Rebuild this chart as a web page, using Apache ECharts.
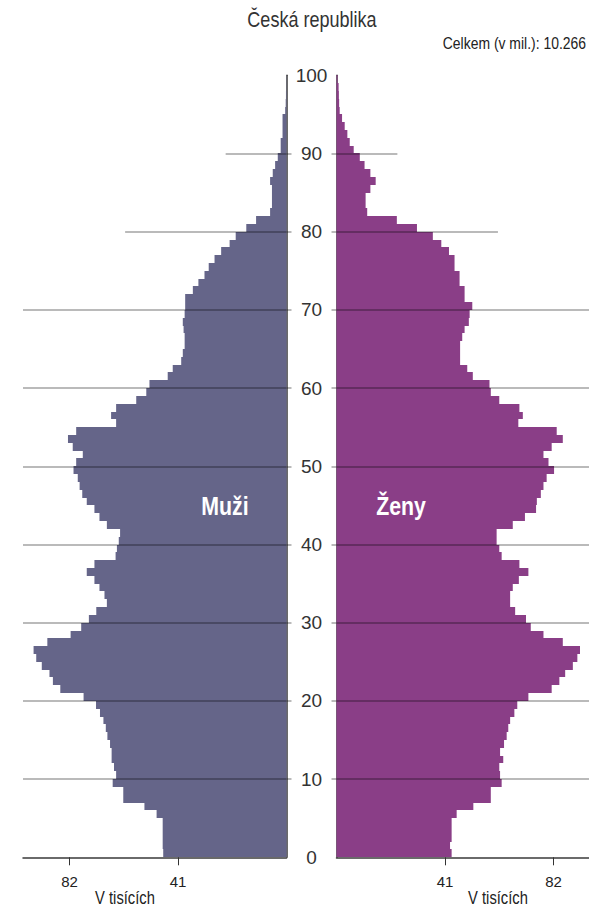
<!DOCTYPE html>
<html>
<head>
<meta charset="utf-8">
<script src="https://cdn.jsdelivr.net/npm/echarts@6/dist/echarts.min.js"></script>
<style>
  html, body { margin: 0; padding: 0; background: #fff; }
  #chart { width: 589px; height: 907px; }
</style>
</head>
<body>
<div id="chart"></div>
<script>
// věk 0..99, hodnoty v tisících
var ages = []
for (var a = 0; a < 100; a++) ages.push(a)

var muzi = [
	46.6, 46.8, 46.8, 46.8, 46.8, 49.1, 53.7, 61.7, 61.7, 65.7,
	64.4, 65.2, 66.1, 66.1, 66.7, 67.7, 68.3, 69.2, 70.5, 72.0,
	76.7, 85.5, 88.3, 89.6, 92.5, 94.6, 95.6, 90.4, 81.6, 77.6,
	74.7, 71.9, 67.9, 68.8, 70.7, 72.6, 75.5, 72.6, 64.6, 64.1,
	63.4, 62.9, 67.9, 70.7, 72.6, 75.5, 77.2, 78.2, 78.9, 80.5,
	79.5, 77.0, 80.8, 82.6, 79.5, 64.4, 66.3, 64.4, 56.8, 53.0,
	51.8, 44.9, 43.0, 39.8, 39.2, 38.5, 38.5, 38.9, 39.2, 38.5,
	38.3, 38.3, 35.4, 33.3, 31.0, 29.4, 27.2, 24.7, 21.5, 19.2,
	15.2, 11.5, 6.2, 5.5, 5.5, 5.5, 6.2, 5.2, 4.3, 3.3,
	2.2, 2.2, 1.5, 1.5, 1.5, 0.5, 0.3, 0.2, 0.1, 0.1
]

var zeny = [
	43.5, 42.9, 43.5, 43.5, 43.5, 45.4, 51.7, 58.3, 58.3, 62.4,
	61.8, 61.5, 63.0, 61.8, 63.3, 64.3, 64.9, 65.6, 67.2, 68.3,
	72.5, 81.3, 84.2, 86.4, 89.3, 91.0, 92.0, 85.5, 78.2, 73.4,
	71.6, 67.5, 65.6, 65.6, 66.6, 68.9, 72.5, 69.1, 62.4, 61.5,
	60.5, 60.5, 66.6, 71.2, 75.4, 75.7, 77.2, 78.2, 79.4, 82.2,
	80.1, 78.2, 81.3, 85.5, 83.2, 68.7, 70.4, 69.1, 61.5, 58.3,
	57.8, 51.5, 49.4, 46.7, 46.7, 46.7, 47.5, 48.4, 50.0, 50.3,
	51.3, 48.4, 48.4, 46.5, 46.5, 44.6, 44.6, 42.5, 39.6, 36.4,
	30.4, 22.8, 11.6, 11.0, 11.0, 12.8, 14.8, 12.8, 10.6, 8.8,
	6.5, 5.0, 4.1, 3.1, 2.1, 1.2, 1.0, 0.9, 0.8, 0.4
]

var ageTicks = [0, 10, 20, 30, 40, 50, 60, 70, 80, 90, 100]
var gridAges = [10, 20, 30, 40, 50, 60, 70, 80, 90]
var valueTicks = [41, 82]
var celkem = '10.266'

var FONT = '"Liberation Sans", Arial, sans-serif'
var NARROW = 0.82 // text v originále je úzký (Arial Narrow)
var LEFT_MAX = 99.6
var RIGHT_MAX = 95.4
// kratší vodorovné čáry nahoře (80 a 90)
var gridReach = { 80: 61, 90: 23 }
var gridColor = 'rgba(0,0,0,0.36)'

function renderBar(params, api) {
	var age = api.value(0)
	var v = api.value(1)
	var p0 = api.coord([0, age])
	var p1 = api.coord([v, age + 1])
	// zaokrouhlit svislé hrany, aby mezi pruhy nebyly světlé spáry
	var yTop = Math.round(p1[1])
	var yBot = Math.round(p0[1])
	return {
		type: 'rect',
		shape: {
			x: Math.min(p0[0], p1[0]),
			y: yTop,
			width: Math.abs(p1[0] - p0[0]),
			height: yBot - yTop
		},
		style: { fill: api.visual('color') }
	}
}

function gridLines(maxVal) {
	return gridAges.map(function (g) {
		var reach = gridReach[g] !== undefined ? gridReach[g] : maxVal
		return [{ coord: [reach, g] }, { coord: [0, g] }]
	})
}

function txt(x, y, text, size, opts) {
	opts = opts || {}
	return {
		type: 'text', x: x, y: y, z: 10, scaleX: NARROW,
		style: {
			text: text, fontFamily: FONT, fontSize: size,
			fontWeight: opts.bold ? 'bold' : 'normal',
			fill: opts.fill || '#222', align: opts.align || 'center', verticalAlign: 'middle'
		}
	}
}

var chart = echarts.init(document.getElementById('chart'), null, { renderer: 'svg' })

var option = {
	backgroundColor: '#fff',
	animation: false,
	grid: [
		{ left: 23, width: 263.5, top: 75.3, bottom: 49.7 },
		{ left: 336.5, right: 0, top: 75.3, bottom: 49.7 }
	],
	xAxis: [
		{
			gridIndex: 0, type: 'value', inverse: true, min: 0, max: LEFT_MAX,
			splitLine: { show: false },
			axisLine: { show: true, lineStyle: { color: '#3a3a3a', width: 1.5 } },
			axisTick: { show: true, customValues: valueTicks, length: 8, lineStyle: { color: '#333' } },
			axisLabel: { customValues: valueTicks, margin: 17, fontFamily: FONT, fontSize: 15, color: '#222' }
		},
		{
			gridIndex: 1, type: 'value', min: 0, max: RIGHT_MAX,
			splitLine: { show: false },
			axisLine: { show: true, lineStyle: { color: '#3a3a3a', width: 1.5 } },
			axisTick: { show: true, customValues: valueTicks, length: 8, lineStyle: { color: '#333' } },
			axisLabel: { customValues: valueTicks, margin: 17, fontFamily: FONT, fontSize: 15, color: '#222' }
		}
	],
	yAxis: [
		{
			gridIndex: 0, type: 'value', position: 'right', min: 0, max: 100, interval: 10,
			splitLine: { show: false },
			axisLine: { show: true, onZero: false, lineStyle: { color: '#3a3a3a', width: 1.5 } },
			axisTick: { show: true, customValues: gridAges, length: 5, lineStyle: { color: gridColor, width: 1.5 } },
			axisLabel: { show: false }
		},
		{
			gridIndex: 1, type: 'value', position: 'left', min: 0, max: 100, interval: 10,
			splitLine: { show: false },
			axisLine: { show: true, onZero: false, lineStyle: { color: '#3a3a3a', width: 1.5 } },
			axisTick: { show: true, customValues: gridAges, length: 5, lineStyle: { color: gridColor, width: 1.5 } },
			axisLabel: {
				customValues: ageTicks, margin: 25, align: 'center',
				fontFamily: FONT, fontSize: 19, color: '#333'
			}
		}
	],
	series: [
		{
			name: 'Muži',
			type: 'custom',
			xAxisIndex: 0, yAxisIndex: 0,
			renderItem: renderBar,
			encode: { x: 1, y: 0 },
			itemStyle: { color: '#656589' },
			data: ages.map(function (a, i) { return [a, muzi[i]] }),
			z: 2,
			markLine: {
				silent: true, symbol: 'none', z: 5,
				label: { show: false },
				lineStyle: { color: gridColor, width: 1.5, type: 'solid' },
				data: gridLines(LEFT_MAX)
			}
		},
		{
			name: 'Ženy',
			type: 'custom',
			xAxisIndex: 1, yAxisIndex: 1,
			renderItem: renderBar,
			encode: { x: 1, y: 0 },
			itemStyle: { color: '#8a3e87' },
			data: ages.map(function (a, i) { return [a, zeny[i]] }),
			z: 2,
			markLine: {
				silent: true, symbol: 'none', z: 5,
				label: { show: false },
				lineStyle: { color: gridColor, width: 1.5, type: 'solid' },
				data: gridLines(RIGHT_MAX)
			}
		}
	],
	graphic: [
		txt(312, 19, 'Česká republika', 22, { fill: '#333' }),
		txt(586, 43, 'Celkem (v mil.): ' + celkem, 17, { align: 'right' }),
		txt(225, 506, 'Muži', 26, { bold: true, fill: '#fff' }),
		txt(401, 506, 'Ženy', 26, { bold: true, fill: '#fff' }),
		txt(125, 897, 'V tisících', 18),
		txt(498, 897, 'V tisících', 18)
	]
}

chart.setOption(option)
</script>
</body>
</html>
